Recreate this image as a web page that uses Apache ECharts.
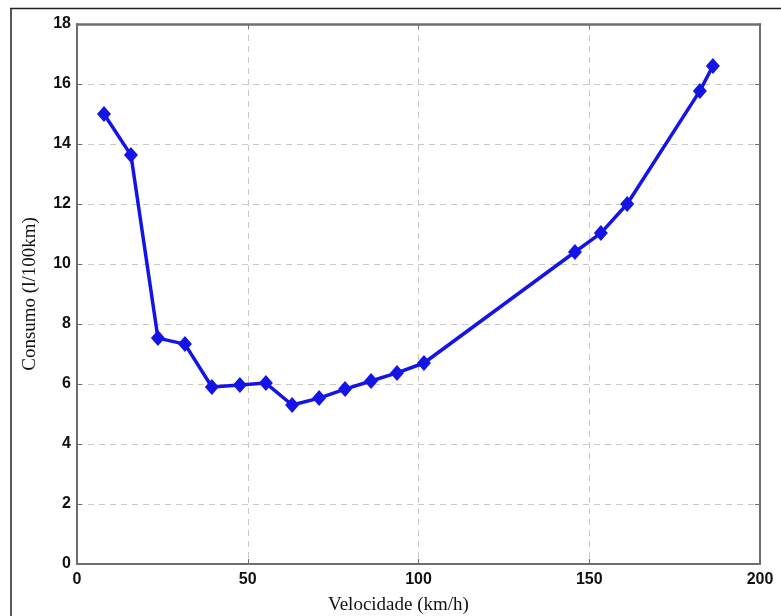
<!DOCTYPE html>
<html>
<head>
<meta charset="utf-8">
<script src="https://cdn.jsdelivr.net/npm/echarts@6/dist/echarts.min.js"></script>
<style>
  html, body { margin: 0; padding: 0; background: #fff; }
  #chart { width: 781px; height: 616px; }
</style>
</head>
<body>
<div id="chart"></div>
<script>
// Fuel consumption versus speed
const velocidade = [7.9, 15.8, 23.7, 31.6, 39.5, 47.7, 55.3, 63.0, 70.9, 78.5, 86.1, 93.7, 101.6, 145.8, 153.4, 161.1, 182.4, 186.2];
const consumo    = [15.0, 13.63, 7.53, 7.33, 5.9, 5.97, 6.03, 5.3, 5.53, 5.83, 6.1, 6.37, 6.7, 10.4, 11.03, 12.0, 15.77, 16.6];

const xTicks = [0, 50, 100, 150, 200];
const yTicks = [0, 2, 4, 6, 8, 10, 12, 14, 16, 18];

const points = velocidade.map((v, i) => [v, consumo[i]]);

const axisGrey = '#6e6e6e';
const tickFont = { fontFamily: 'Liberation Sans, Arial, sans-serif', fontWeight: 'bold', fontSize: 16, color: '#111' };
const nameFont = { fontFamily: 'Liberation Serif, Times New Roman, serif', fontSize: 19, color: '#111' };
const dashed = { show: true, lineStyle: { type: [6, 5], color: '#c8c8c8', width: 1 } };

const chart = echarts.init(document.getElementById('chart'), null, { renderer: 'canvas' });
chart.setOption({
  animation: false,
  backgroundColor: '#ffffff',
  grid: { left: 77, top: 24, right: 21, bottom: 52, containLabel: false, outerBoundsMode: 'none' },
  graphic: [
    { type: 'line', shape: { x1: 10, y1: 8.5, x2: 781, y2: 8.5 }, style: { stroke: '#222', lineWidth: 1.5 } },
    { type: 'line', shape: { x1: 11, y1: 8, x2: 11, y2: 616 }, style: { stroke: '#222', lineWidth: 1.5 } }
  ],
  xAxis: [
    {
      type: 'value', min: xTicks[0], max: xTicks[xTicks.length - 1], interval: 50,
      name: 'Velocidade (km/h)', nameLocation: 'middle', nameGap: 32, nameTextStyle: Object.assign({ padding: [0, 40, 0, 0] }, nameFont),
      axisLine: { show: true, onZero: false, lineStyle: { color: axisGrey, width: 2 } },
      axisTick: { show: true, inside: true, length: 5, lineStyle: { color: axisGrey } },
      axisLabel: Object.assign({ margin: 8 }, tickFont),
      splitLine: dashed
    },
    {
      type: 'value', position: 'top', min: xTicks[0], max: xTicks[xTicks.length - 1], interval: 50,
      axisLine: { show: true, onZero: false, lineStyle: { color: axisGrey, width: 2.5 } },
      axisTick: { show: true, inside: true, length: 5, lineStyle: { color: axisGrey } },
      axisLabel: { show: false }, splitLine: { show: false }
    }
  ],
  yAxis: [
    {
      type: 'value', min: yTicks[0], max: yTicks[yTicks.length - 1], interval: 2,
      name: 'Consumo (l/100km)', nameLocation: 'middle', nameGap: 37, nameTextStyle: nameFont,
      axisLine: { show: true, onZero: false, lineStyle: { color: axisGrey, width: 2 } },
      axisTick: { show: true, inside: true, length: 5, lineStyle: { color: axisGrey } },
      axisLabel: Object.assign({ margin: 6 }, tickFont),
      splitLine: dashed
    },
    {
      type: 'value', position: 'right', min: yTicks[0], max: yTicks[yTicks.length - 1], interval: 2,
      axisLine: { show: true, onZero: false, lineStyle: { color: axisGrey, width: 2 } },
      axisTick: { show: true, inside: true, length: 5, lineStyle: { color: axisGrey } },
      axisLabel: { show: false }, splitLine: { show: false }
    }
  ],
  series: [{
    type: 'line',
    data: points,
    symbol: 'diamond',
    symbolSize: [14, 16],
    lineStyle: { color: '#1414e6', width: 3.5 },
    itemStyle: { color: '#1414e6' }
  }]
});
</script>
</body>
</html>
